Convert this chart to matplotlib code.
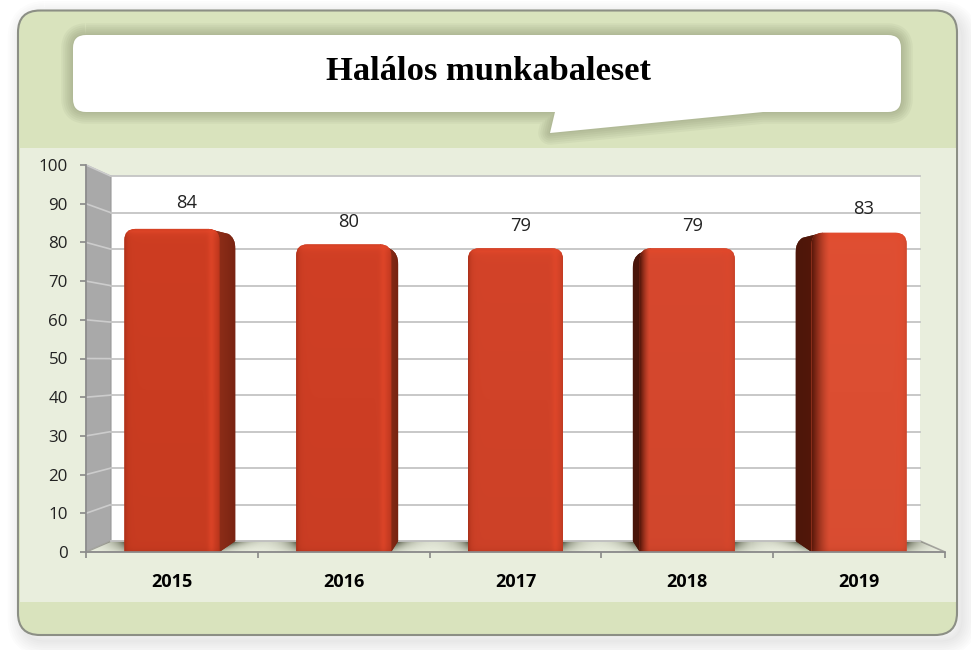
import matplotlib
matplotlib.use("Agg")
import matplotlib.pyplot as plt
import numpy as np
from matplotlib.path import Path
from matplotlib.patches import PathPatch, Polygon, Rectangle
from matplotlib.colors import to_rgb
from matplotlib.transforms import Affine2D

years = ["2015", "2016", "2017", "2018", "2019"]
values = [84, 80, 79, 79, 83]
y_ticks = [0, 10, 20, 30, 40, 50, 60, 70, 80, 90, 100]
title = "Halálos munkabaleset"

# style per bar, in pixels
side_px = [16, 7, 0, -7, -16]
label_dx = [15, 5, 5, 5, 5]
label_dy = [24, 20, 20, 20, 22]
bar_colors = ["#ca3c21", "#cd3e24", "#d04228", "#d4472d", "#dc4e32"]
side_colors = ["#7a2412", "#762311", "#7e2513", "#4a150a", "#4e1609"]

PX = 5 / 859      # data units per pixel, x
PY = 100 / 387    # data units per pixel, y
WALL_DX = 25 * PX
FLOOR_Y = 11 * PY
CORNER = 11


def back(v):
    # front axis value -> height on the back wall
    return np.asarray(v) * 0.9425 + FLOOR_Y


def rgb(c):
    return np.array(to_rgb(c))


def rounded(x0, y0, x1, y1, r, tail=None):
    # rounded box in overlay pixels, y grows downward, optional tail on the lower edge
    v = [(x0 + r, y0), (x1 - r, y0), (x1, y0), (x1, y0 + r), (x1, y1 - r), (x1, y1), (x1 - r, y1)]
    c = [Path.MOVETO, Path.LINETO, Path.CURVE3, Path.CURVE3, Path.LINETO, Path.CURVE3, Path.CURVE3]
    if tail:
        v += tail
        c += [Path.LINETO] * len(tail)
    v += [(x0 + r, y1), (x0, y1), (x0, y1 - r), (x0, y0 + r), (x0, y0), (x0 + r, y0)]
    c += [Path.LINETO, Path.CURVE3, Path.CURVE3, Path.LINETO, Path.CURVE3, Path.CURVE3]
    return Path(v, c)


def bar_path(left, right, top, r=CORNER):
    rx, ry = r * PX, r * PY
    v = [(left, 0), (left, top - ry), (left, top), (left + rx, top), (right - rx, top),
         (right, top), (right, top - ry), (right, 0), (left, 0)]
    c = [Path.MOVETO, Path.LINETO, Path.CURVE3, Path.CURVE3, Path.LINETO,
         Path.CURVE3, Path.CURVE3, Path.LINETO, Path.CLOSEPOLY]
    return Path(v, c)


def side_path(edge, s, top):
    far = edge + s * PX
    sign = 1 if s > 0 else -1
    inner = edge - sign * CORNER * PX
    v = [(edge, 0), (far, FLOOR_Y), (far, top - 20 * PY), (far, top - 9 * PY),
         (far - sign * 7 * PX, top - 5 * PY), (inner, top), (inner, 0), (edge, 0)]
    c = [Path.MOVETO, Path.LINETO, Path.LINETO, Path.CURVE3, Path.CURVE3, Path.LINETO,
         Path.LINETO, Path.CLOSEPOLY]
    return Path(v, c)


fig = plt.figure(figsize=(9.71, 6.5), dpi=100, facecolor="white")

# frame and title callout
deco = fig.add_axes([0, 0, 1, 1], zorder=0)
deco.set_xlim(0, 971)
deco.set_ylim(650, 0)
deco.axis("off")

frame = rounded(18, 10.5, 957, 635, 22)
for w in range(22, 0, -3):
    deco.add_patch(PathPatch(frame.transformed(Affine2D().translate(5, 6)),
                             fc="none", ec="#777777", lw=w, alpha=0.02))
deco.add_patch(PathPatch(frame, fc="#d9e3bd", ec="#8c8f85", lw=1.5, zorder=2))
deco.add_patch(Rectangle((19.5, 148), 936.5, 454, fc="#e9eedd", ec="none", zorder=3))

callout = rounded(73, 35, 901, 112, 13, tail=[(763, 112), (550, 133), (555, 112)])
for w in range(17, 0, -3):
    deco.add_patch(PathPatch(callout, fc="none", ec="#5f6448", lw=w, alpha=0.06, zorder=4,
                             joinstyle="round"))
deco.add_patch(PathPatch(callout, fc="white", ec="none", zorder=5))
deco.text(488, 71, title, family="Liberation Serif", weight="bold", fontsize=24.8,
          ha="center", va="center", color="black", zorder=6)

# chart, front plane of the 3D box spans the axes
ax = fig.add_axes([86 / 971, 1 - 552 / 650, 859 / 971, 387 / 650], zorder=1)
ax.patch.set_visible(False)
n = len(years)
ax.set_xlim(0, n)
ax.set_ylim(0, 100)

# walls and floor
wall_l, wall_r = WALL_DX, n - WALL_DX
ax.add_patch(Rectangle((wall_l, back(0)), wall_r - wall_l, back(100) - back(0), fc="white", ec="none",
                       zorder=1, clip_on=False))
ax.add_patch(Polygon([(0, 0), (wall_l, back(0)), (wall_l, back(100)), (0, 100)], fc="#a9a9a9",
                     ec="#9a9a9a", lw=0.8, zorder=1.2, clip_on=False))
floor = Polygon([(0, 0), (wall_l, back(0)), (wall_r, back(0)), (n, 0)], fc="#edf1e2", ec="#a6a6a0",
                lw=1.2, zorder=1.3, clip_on=False)
ax.add_patch(floor)
for v in y_ticks:
    ax.plot([wall_l, wall_r], [back(v), back(v)], color="#c4c4c4", lw=1.3, zorder=1.45, clip_on=False)
    if v > 0:
        ax.plot([0, wall_l], [v, back(v)], color="#cccccc", lw=1.2, zorder=1.4, clip_on=False)

# bars
bar_w = 95 * PX
for i, (val, s) in enumerate(zip(values, side_px)):
    left = i + 0.5 - bar_w / 2
    right = left + bar_w
    top = val - 2 * PY

    # soft shadow on the floor, stronger towards the back edge
    sx0, sx1 = left - 60 * PX, right + 60 * PX
    xs = np.linspace(sx0, sx1, 215)[None, :]
    frac = np.linspace(1, 0, 12)[:, None]
    l_edge = left + min(s, 0) * PX * frac
    r_edge = right + max(s, 0) * PX * frac
    dist = np.maximum(np.maximum(l_edge - xs, xs - r_edge), 0) / PX
    shadow = np.zeros((12, 215, 4))
    shadow[..., :3] = to_rgb("#555a46")
    shadow[..., 3] = np.exp(-dist / 13) * (0.3 + 0.7 * frac)
    sh = ax.imshow(shadow, extent=(sx0, sx1, 0, back(0)), aspect="auto", zorder=1.35,
                   interpolation="bilinear")
    sh.set_clip_path(Polygon(floor.get_xy(), transform=ax.transData))

    # side face with horizontal fade towards the front edge
    if s != 0:
        edge = right if s > 0 else left
        p = PathPatch(side_path(edge, s, top), fc=side_colors[i], ec="none", zorder=2.0)
        ax.add_patch(p)
        t = np.linspace(0, 1, 40)[:, None]
        if s < 0:
            face = rgb(side_colors[i]) * (1 - t ** 2) + rgb("#5e1a0c") * t ** 2
            ext = (edge + s * PX, edge + CORNER * PX)
        else:
            face = rgb("#93301a") * (1 - t ** 1.5) + rgb(side_colors[i]) * t ** 1.5
            ext = (edge - CORNER * PX, edge + s * PX)
        im = ax.imshow(face[None, :, :], extent=(ext[0], ext[1], 0, top), aspect="auto", zorder=2.1,
                       interpolation="bilinear")
        im.set_clip_path(p)

    # front face
    p = PathPatch(bar_path(left, right, top), fc=bar_colors[i], ec="none", zorder=3.0)
    ax.add_patch(p)
    rows, cols = 400, 96
    u = np.linspace(0, 95, cols)[None, :, None]            # pixels from the left edge
    d = np.linspace(0, top / PY, rows)[:, None, None]      # pixels below the top
    frac_v = d / d.max()
    base = rgb(bar_colors[i])[None, None, :]
    base = base * (1.015 - 0.03 * frac_v)
    hi = rgb("#e5482a")[None, None, :]
    edge_dark = rgb("#8f2410")[None, None, :]
    amt_top = np.exp(-np.abs(d - 3.0) / 3.0) * 0.7
    amt_r = np.exp(-((u - 87.0) / 3.5) ** 2) * (0.6 if s >= 0 else 0.2)
    if s >= 0:
        amt_l = np.exp(-u / 2.5) * 0.55
        dark = edge_dark
    else:
        amt_l = np.clip(1 - u / (-s * 0.9 + 3), 0, 1) ** 1.4
        dark = rgb("#5e1a0c")[None, None, :]
    amt_e = np.exp(-(95 - u) / 2.0) * 0.35
    amt_b = np.exp(-(top / PY - d) / 2.5) * 0.25
    img = base * (1 - amt_top) + hi * amt_top
    img = img * (1 - amt_r) + hi * amt_r
    img = img * (1 - amt_l) + dark * amt_l
    img = img * (1 - amt_e) + edge_dark * amt_e
    img = img * (1 - amt_b) + edge_dark * amt_b
    im = ax.imshow(np.clip(img, 0, 1), extent=(left, right, 0, top), aspect="auto", zorder=3.1,
                   interpolation="bilinear")
    im.set_clip_path(p)

    ax.annotate(str(val), (i + 0.5, val), xytext=(label_dx[i] * 0.72, label_dy[i] * 0.72),
                textcoords="offset points", ha="center", va="center", family="Open Sans",
                fontsize=13.2, color="#222222", zorder=5)

# imshow resets the limits
ax.set_xlim(0, n)
ax.set_ylim(0, 100)

for side in ["top", "right"]:
    ax.spines[side].set_visible(False)
for side in ["left", "bottom"]:
    ax.spines[side].set_color("#8c8c8c")
    ax.spines[side].set_linewidth(1.2)
    ax.spines[side].set_zorder(4)
ax.set_yticks(y_ticks)
ax.set_yticklabels([str(v) for v in y_ticks], family="Open Sans", fontsize=12.2, color="#222222")
ax.tick_params(axis="y", length=4.5, width=1.1, color="#808080", pad=8.5)
ax.set_xticks(range(n + 1))
ax.set_xticklabels([])
ax.tick_params(axis="x", which="major", length=4.5, width=1.1, color="#808080")
ax.set_xticks([i + 0.5 for i in range(n)], minor=True)
ax.set_xticklabels(years, minor=True, family="Open Sans", weight="bold", fontsize=13, color="black")
ax.tick_params(axis="x", which="minor", length=0, pad=15)

fig.savefig("out.png", dpi=100)
